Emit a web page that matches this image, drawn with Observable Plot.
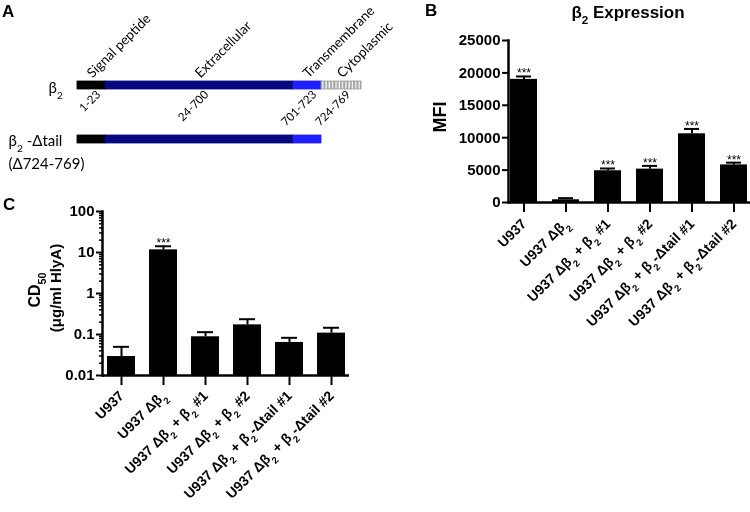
<!DOCTYPE html>
<html><head><meta charset="utf-8">
<script src="https://cdn.jsdelivr.net/npm/d3@7"></script>
<script src="https://cdn.jsdelivr.net/npm/@observablehq/plot@0.6"></script>
<style>
body{margin:0;background:#fff}
#fig{position:relative;width:750px;height:512px;overflow:hidden;background:#fff}
#fig > div{position:absolute;will-change:transform}
svg{overflow:visible}
</style></head><body><div id="fig"><div id="pa" style="left:0;top:0"></div><div id="pb" style="left:400px;top:0"></div><div id="pc" style="left:0;top:200px"></div><div id="ov" style="left:0;top:0"></div></div>
<script>
// ---------- Panel A data ----------
const domainNames = ["Signal peptide", "Extracellular", "Transmembrane", "Cytoplasmic"];
const domainRanges = ["1-23", "24-700", "701-723", "724-769"];
const domainStart = [1, 24, 701, 724];
const domainEnd = [23, 700, 723, 769];
const domainColors = ["#000000", "#07077f", "#1f1fff", "url(#stripes)"];
const constructs = ["β₂", "β₂ -Δtail"];
const constructLast = [769, 723];
const constructNote = ["", "(Δ724-769)"];

// ---------- Panel B / C data ----------
const cellLines = ["U937", "U937 Δβ₂", "U937 Δβ₂ + β₂ #1", "U937 Δβ₂ + β₂ #2", "U937 Δβ₂ + β₂-Δtail #1", "U937 Δβ₂ + β₂-Δtail #2"];
const mfiMean = [19000, 420, 4900, 5150, 10600, 5800];
const mfiErr = [450, 250, 350, 500, 750, 350];
const mfiSig = ["***", "", "***", "***", "***", "***"];
const mfiTicks = [0, 5000, 10000, 15000, 20000, 25000];

const cd50Mean = [0.029, 11.6, 0.088, 0.172, 0.064, 0.108];
const cd50Upper = [0.050, 14.2, 0.114, 0.236, 0.083, 0.146];
const cd50Sig = ["", "***", "", "", "", ""];
const cd50Ticks = [0.01, 0.1, 1, 10, 100];
const cd50TickLabels = ["0.01", "0.1", "1", "10", "100"];

// ---------- helpers ----------
const SUBMAP = {"₀":"0","₁":"1","₂":"2","₃":"3","₄":"4","₅":"5","₆":"6","₇":"7","₈":"8","₉":"9"};
const NS = "http://www.w3.org/2000/svg";
function applySubs(root) {
  root.querySelectorAll("text, tspan").forEach(el => {
    if (el.children.length) return;
    const s = el.textContent;
    if (!/[₀-₉]/.test(s)) return;
    el.textContent = "";
    for (const p of s.split(/([₀-₉]+)/)) {
      if (!p) continue;
      const t = document.createElementNS(NS, "tspan");
      if (/[₀-₉]/.test(p)) {
        t.textContent = [...p].map(c => SUBMAP[c]).join("");
        t.setAttribute("baseline-shift", "sub");
        t.setAttribute("font-size", "68%");
      } else t.textContent = p;
      el.appendChild(t);
    }
  });
}
const base = {background: "transparent", overflow: "visible", color: "#000"};
const boldFont = "'Liberation Sans', Arial, sans-serif";

// ---------- Panel A ----------
// schematic (not to scale): piecewise residue -> display units
const residueToDisplay = d3.scaleLinear().domain([0.5, 23.5, 700.5, 723.5, 769.5]).range([0, 28, 216, 244, 284]);
const segs = constructs.flatMap((c, ci) => domainNames.map((n, i) => ({
  construct: c, name: n, range: domainRanges[i],
  start: domainStart[i] - 0.5, end: domainEnd[i] + 0.5, fill: domainColors[i], first: ci === 0
})).filter(d => d.end <= constructLast[ci] + 0.5));
const topSegs = segs.filter(d => d.first);
const mid = d => (d.start + d.end) / 2;

const A = Plot.plot({
  width: 405, height: 200, margin: 0,
  style: {...base, fontFamily: "Lato, 'Open Sans', sans-serif"},
  x: {transform: residueToDisplay, domain: [0, 284], range: [77, 361], axis: null},
  y: {type: "band", domain: constructs, range: [80, 143], paddingInner: 0.8545, paddingOuter: 0, axis: null},
  color: {type: "identity"},
  marks: [
    Plot.barX(segs, {x1: "start", x2: "end", y: "construct", fill: "fill",
      stroke: d => d.name === "Cytoplasmic" ? "#9a9a9a" : d.fill, strokeWidth: 0.8}),
    Plot.text(topSegs, {x: mid, y: "construct", text: "name", rotate: -45, textAnchor: "start", lineAnchor: "bottom", dy: -7, dx: 1, fontSize: 13.5, fill: "#000"}),
    Plot.text(topSegs, {x: mid, y: "construct", text: "range", rotate: -45, textAnchor: "end", lineAnchor: "top", dy: 4, dx: 4, fontSize: 11.5, fill: "#000"}),
    Plot.text([constructs[0]], {frameAnchor: "left", y: d => d, text: d => d, dx: 48, dy: 3, textAnchor: "start", fontSize: 15, fill: "#000"}),
    Plot.text([constructs[1]], {frameAnchor: "left", y: d => d, text: d => d, dx: 8, dy: 2, textAnchor: "start", fontSize: 15, fill: "#000"}),
    Plot.text([constructNote[1]], {frameAnchor: "left", y: () => constructs[1], text: d => d, dx: 8, dy: 25, textAnchor: "start", fontSize: 15, fill: "#000"})
  ]
});
d3.select(A).insert("defs", ":first-child").html(
  '<pattern id="stripes" patternUnits="userSpaceOnUse" width="3.3" height="10"><rect width="3.3" height="10" fill="#a6a6a6"/><rect x="2.1" width="1.2" height="10" fill="#ffffff"/></pattern>');
applySubs(A);
document.getElementById("pa").appendChild(A);

// ---------- Panel B ----------
const mfiData = cellLines.map((c, i) => ({line: c, mean: mfiMean[i], top: mfiMean[i] + mfiErr[i], sig: mfiSig[i]}));
const B = Plot.plot({
  width: 350, height: 345, marginLeft: 108, marginRight: 0, marginTop: 40, marginBottom: 143,
  style: {...base, fontFamily: boldFont, fontWeight: "bold", fontSize: "14px"},
  x: {domain: cellLines, paddingInner: 0.35, paddingOuter: 0, label: null},
  y: {domain: [0, 25000], label: null},
  marks: [
    Plot.barY(mfiData, {x: "line", y: "mean", fill: "#000"}),
    Plot.ruleX(mfiData, {x: "line", y1: "mean", y2: "top", strokeWidth: 2}),
    Plot.tickY(mfiData, {x: "line", y: "top", strokeWidth: 2, insetLeft: 6, insetRight: 6}),
    Plot.text(mfiData, {x: "line", y: "top", text: "sig", lineAnchor: "bottom", dy: 1, fontSize: 12, fontWeight: "normal", fill: "#000"}),
    Plot.axisY({ticks: mfiTicks, tickFormat: d => String(d), tickSize: 6, tickPadding: 2, strokeWidth: 2, fontSize: 15, label: null}),
    Plot.axisX({tickRotate: -45, tickSize: 10, tickPadding: 9, strokeWidth: 2, fontSize: 14, label: null}),
    Plot.ruleY([0], {strokeWidth: 2.5}),
    Plot.frame({anchor: "left", strokeWidth: 2.5})
  ]
});
applySubs(B);
document.getElementById("pb").appendChild(B);

// ---------- Panel C ----------
const cd50Data = cellLines.map((c, i) => ({line: c, mean: cd50Mean[i], top: cd50Upper[i], sig: cd50Sig[i]}));
const minorTicks = d3.range(-2, 2).flatMap(k => d3.range(2, 10).map(m => m * Math.pow(10, k)));
const C = Plot.plot({
  width: 360, height: 312, marginLeft: 102, marginRight: 11, marginTop: 11, marginBottom: 137,
  style: {...base, fontFamily: boldFont, fontWeight: "bold", fontSize: "14px"},
  x: {domain: cellLines, paddingInner: 0.34, paddingOuter: 0.07, label: null},
  y: {type: "log", domain: [cd50Ticks[0], cd50Ticks[cd50Ticks.length - 1]], label: null},
  marks: [
    Plot.barY(cd50Data, {x: "line", y1: cd50Ticks[0], y2: "mean", fill: "#000"}),
    Plot.ruleX(cd50Data, {x: "line", y1: "mean", y2: "top", strokeWidth: 2}),
    Plot.tickY(cd50Data, {x: "line", y: "top", strokeWidth: 2, insetLeft: 6, insetRight: 6}),
    Plot.text(cd50Data, {x: "line", y: "top", text: "sig", lineAnchor: "bottom", dy: 1, fontSize: 12, fontWeight: "normal", fill: "#000"}),
    Plot.axisY({ticks: minorTicks, tickFormat: () => "", tickSize: 3, strokeWidth: 1.5, label: null}),
    Plot.axisY({ticks: cd50Ticks, tickFormat: d => cd50TickLabels[cd50Ticks.indexOf(d)], tickSize: 6, tickPadding: 2, strokeWidth: 2, fontSize: 15, label: null}),
    Plot.axisX({tickRotate: -45, tickSize: 10, tickPadding: 8, strokeWidth: 2, fontSize: 14, label: null}),
    Plot.ruleY([cd50Ticks[0]], {strokeWidth: 2.5}),
    Plot.frame({anchor: "left", strokeWidth: 2.5})
  ]
});
applySubs(C);
document.getElementById("pc").appendChild(C);

// ---------- Overlay texts (panel letters, titles, axis titles) ----------
const ov = d3.select("#ov").append("svg").attr("width", 750).attr("height", 512)
  .attr("font-family", boldFont).attr("font-weight", "bold");
const labels = [
  {t: "A", x: 2, y: 17, size: 17},
  {t: "B", x: 425, y: 16, size: 17},
  {t: "C", x: 3, y: 210, size: 17},
  {t: "β₂ Expression", x: 628, y: 18, size: 17, anchor: "middle"},
  {t: "MFI", x: 446, y: 117, size: 18, anchor: "middle", rot: -90},
  {t: "CD₅₀", x: 40, y: 290, size: 16, anchor: "middle", rot: -90},
  {t: "(μg/ml HlyA)", x: 61, y: 288, size: 15, anchor: "middle", rot: -90}
];
ov.selectAll("text").data(labels).join("text")
  .attr("transform", d => `translate(${d.x},${d.y})` + (d.rot ? ` rotate(${d.rot})` : ""))
  .attr("text-anchor", d => d.anchor || "start")
  .attr("font-size", d => d.size)
  .text(d => d.t);
applySubs(ov.node());
</script></body></html>
